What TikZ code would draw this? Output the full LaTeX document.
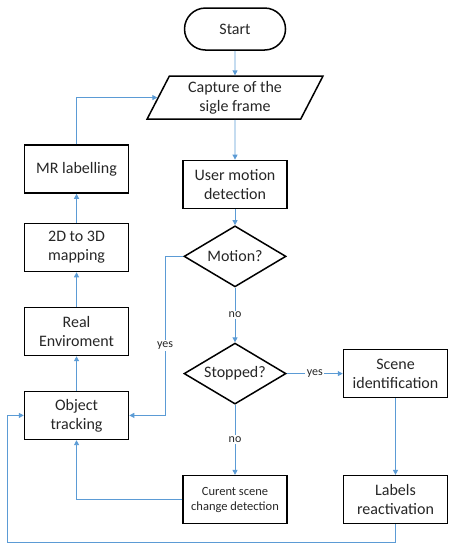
\documentclass[tikz,border=0pt]{standalone}
\usepackage{fontspec}
\setmainfont{Carlito}
\usetikzlibrary{shapes.geometric,arrows.meta}
\definecolor{flowblue}{HTML}{5B9BD5}
\definecolor{flowtext}{HTML}{262626}

\tikzset{
    base/.style={draw=black, line width=1.5pt, text=flowtext, align=center,
        font=\fontsize{16}{19}\selectfont},
    box/.style={base, rectangle, minimum width=104pt, minimum height=48pt, inner sep=2pt},
    smallbox/.style={box, font=\fontsize{12.5}{15}\selectfont},
    terminal/.style={base, rectangle, rounded corners=21pt, minimum width=101pt, minimum height=42pt},
    io/.style={base, trapezium, trapezium left angle=65, trapezium right angle=115,
        trapezium stretches=true, minimum width=176pt, minimum height=43pt, inner sep=1pt},
    decision/.style={base, diamond, aspect=1.67, minimum width=102pt, minimum height=61pt, inner sep=0pt},
    flow/.style={draw=flowblue, line width=0.9pt, -{Triangle[length=5pt,width=5pt]}},
    answer/.style={fill=white, text=flowtext, inner sep=1.5pt, font=\fontsize{12}{14}\selectfont}
}

\begin{document}
\begin{tikzpicture}
    \useasboundingbox (0,0) rectangle (15.96,-19.33);

    \node[terminal] (start) at (8.26,-1.02) {Start};
    \node[io] (capture) at (8.26,-3.43) {Capture of the\\sigle frame};
    \node[box] (user) at (8.26,-6.48) {User motion\\detection};
    \node[decision] (motion) at (8.26,-9.01) {Motion?};
    \node[decision] (stopped) at (8.26,-13.13) {Stopped?};
    \node[smallbox] (change) at (8.26,-17.56) {Curent scene\\change detection};
    \node[box] (scene) at (13.90,-13.13) {Scene\\identification};
    \node[box] (labels) at (13.90,-17.56) {Labels\\reactivation};
    \node[box] (mr) at (2.69,-5.94) {MR labelling};
    \node[box] (map) at (2.69,-8.70) {2D to 3D\\mapping};
    \node[box] (real) at (2.69,-11.65) {Real\\Enviroment};
    \node[box] (track) at (2.69,-14.60) {Object\\tracking};

    \coordinate (yesbend) at (5.80,-9.01);
    \coordinate (loopright) at (13.90,-19.08);
    \coordinate (loopleft) at (0.25,-19.08);

    \draw[flow] (start) -- (capture);
    \draw[flow] (capture) -- (user);
    \draw[flow] (user) -- (motion);
    \draw[flow] (motion) -- node[answer] {no} (stopped);
    \draw[flow] (stopped) -- node[answer] {no} (change);
    \draw[flow] (stopped) -- node[answer] {yes} (scene);
    \draw[flow] (scene) -- (labels);
    \draw[flow] (motion.west) -- (yesbend) |- node[answer, pos=0.28] {yes} (track.east);
    \draw[flow] (change.west) -| (track.south);
    \draw[flow] (labels.south) -- (loopright) -- (loopleft) |- (track.west);
    \draw[flow] (track) -- (real);
    \draw[flow] (real) -- (map);
    \draw[flow] (map) -- (mr);
    \draw[flow] (mr.north) |- (capture.west);
\end{tikzpicture}
\end{document}
